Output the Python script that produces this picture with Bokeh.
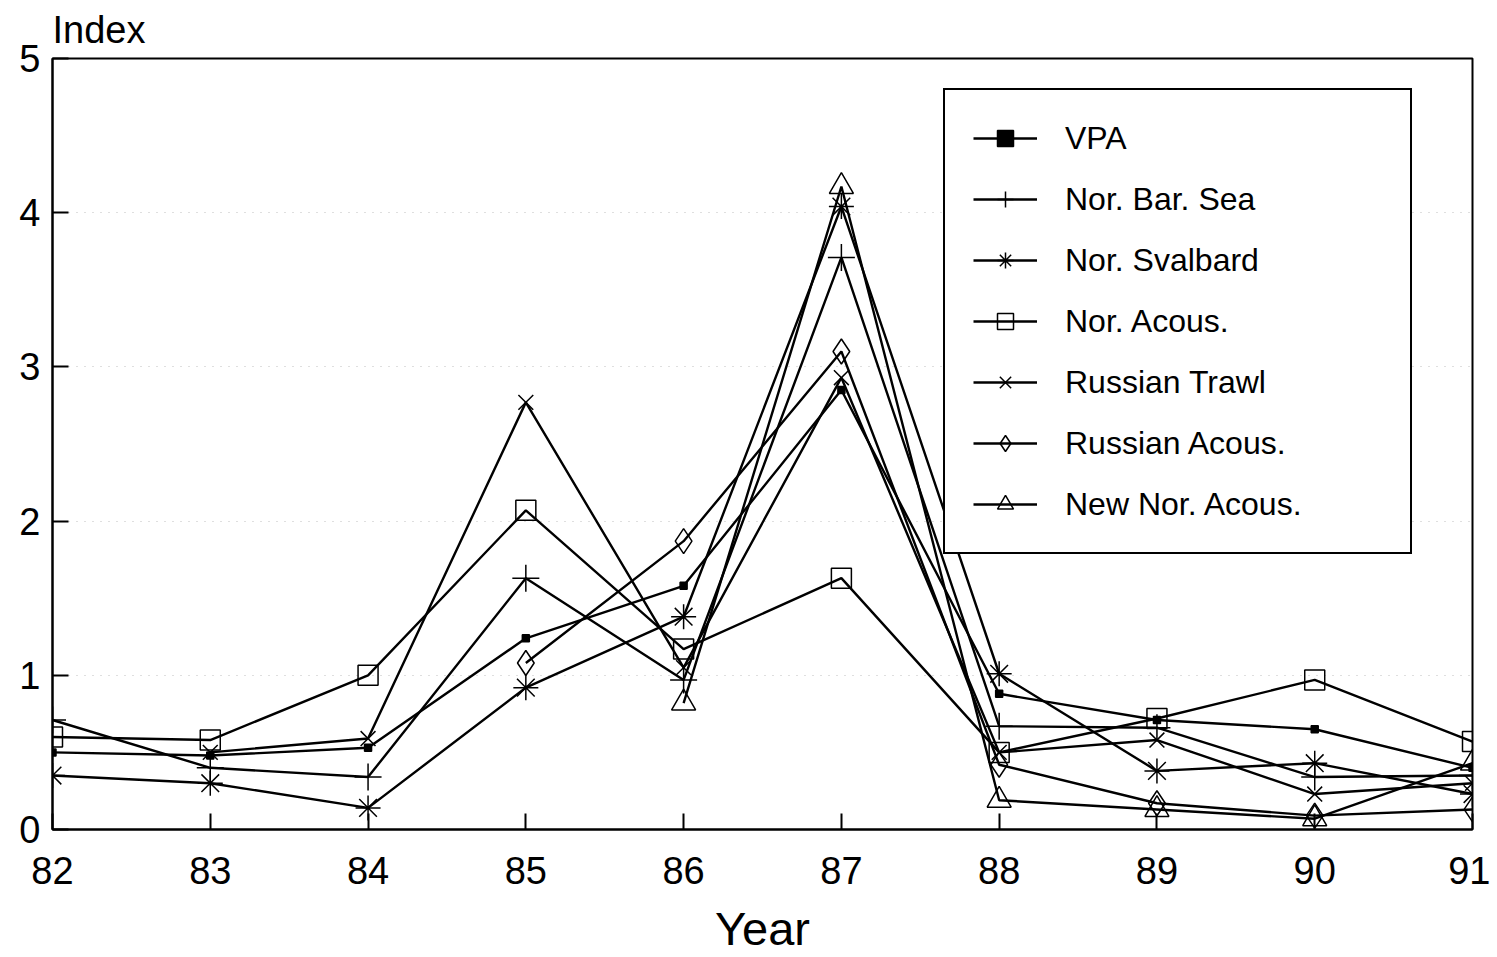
from bokeh.plotting import figure
from bokeh.models import Legend, LegendItem, FixedTicker, Range1d
from bokeh.embed import file_html
from bokeh.resources import INLINE

years = [82, 83, 84, 85, 86, 87, 88, 89, 90, 91]
vpa = [0.50, 0.48, 0.53, 1.24, 1.58, 2.85, 0.88, 0.71, 0.65, 0.40]
nor_bar_sea = [0.71, 0.40, 0.34, 1.63, 0.97, 3.71, 0.67, 0.66, 0.34, 0.35]
nor_svalbard = [0.35, 0.30, 0.14, 0.92, 1.38, 4.04, 1.01, 0.38, 0.43, 0.23]
nor_acous = [0.60, 0.58, 1.00, 2.07, 1.17, 1.63, 0.50, 0.72, 0.97, 0.57]
rus_trawl_years = [83, 84, 85, 86, 87, 88, 89, 90, 91]
rus_trawl = [0.50, 0.59, 2.77, 1.05, 2.93, 0.50, 0.58, 0.23, 0.30]
rus_acous_years = [85, 86, 87, 88, 89, 90, 91]
rus_acous = [1.08, 1.87, 3.10, 0.42, 0.17, 0.09, 0.13]
new_nor_years = [86, 87, 88, 89, 90, 91]
new_nor_acous = [0.82, 4.17, 0.19, 0.13, 0.07, 0.43]
y_ticks = [0, 1, 2, 3, 4, 5]

FONT = "Liberation Sans"

p = figure(width=1490, height=957, output_backend="svg", toolbar_location=None,
           x_range=Range1d(82, 91), y_range=Range1d(0, 5),
           min_border_left=52, min_border_right=18, min_border_top=58,
           min_border_bottom=128, background_fill_color="white",
           border_fill_color="white")

p.title.text = "Index"
p.title.text_font = FONT
p.title.text_font_size = "38px"
p.title.text_font_style = "normal"
p.title.text_color = "black"
p.title.align = "left"
p.title.vertical_align = "top"
p.title.offset = 0
p.title.standoff = 12

p.outline_line_color = "black"
p.outline_line_width = 2
p.outline_line_alpha = 1

p.xaxis.ticker = FixedTicker(ticks=years)
p.yaxis.ticker = FixedTicker(ticks=y_ticks)
for ax in (p.xaxis, p.yaxis):
    ax.major_tick_in = 16
    ax.major_tick_out = 0
    ax.minor_tick_line_color = None
    ax.axis_line_width = 2
    ax.axis_line_color = "black"
    ax.major_tick_line_width = 2
    ax.major_tick_line_color = "black"
    ax.major_label_text_font = FONT
    ax.major_label_text_font_size = "38px"
    ax.major_label_text_color = "black"

p.xaxis.major_label_standoff = 27
p.yaxis.major_label_standoff = 12
p.xaxis.axis_label = "Year"
p.xaxis.axis_label_text_font = FONT
p.xaxis.axis_label_text_font_size = "47px"
p.xaxis.axis_label_text_font_style = "normal"
p.xaxis.axis_label_text_color = "black"
p.xaxis.axis_label_standoff = 15

p.xgrid.grid_line_color = None
p.ygrid.grid_line_color = "#8a8a8a"
p.ygrid.grid_line_dash = "1 7"
p.ygrid.grid_line_alpha = 0.55

series = [
    ("VPA", years, vpa, "square", 7, "black"),
    ("Nor. Bar. Sea", years, nor_bar_sea, "cross", 27, None),
    ("Nor. Svalbard", years, nor_svalbard, "asterisk", 25, None),
    ("Nor. Acous.", years, nor_acous, "square", 20, None),
    ("Russian Trawl", rus_trawl_years, rus_trawl, "x", 21, None),
    ("Russian Acous.", rus_acous_years, rus_acous, "diamond", 25, None),
    ("New Nor. Acous.", new_nor_years, new_nor_acous, "triangle", 24, None),
]

items = []
for name, xs, ys, marker, size, fill in series:
    rl = p.line(xs, ys, line_color="black", line_width=2.4)
    rs = p.scatter(xs, ys, marker=marker, size=size, line_color="black",
                   line_width=1.5, fill_color=fill,
                   fill_alpha=1 if fill else 0)
    items.append(LegendItem(label=name, renderers=[rl, rs]))

legend = Legend(items=items, location=(891, 275), margin=0,
                border_line_color="black", border_line_width=2,
                border_line_alpha=1,
                background_fill_color="white", background_fill_alpha=1,
                padding=28, spacing=21, glyph_height=40, glyph_width=64,
                label_standoff=28, label_width=317,
                label_text_font=FONT, label_text_font_size="32px",
                label_text_color="black")
p.add_layout(legend)

open("out.html", "w").write(file_html(p, INLINE))
